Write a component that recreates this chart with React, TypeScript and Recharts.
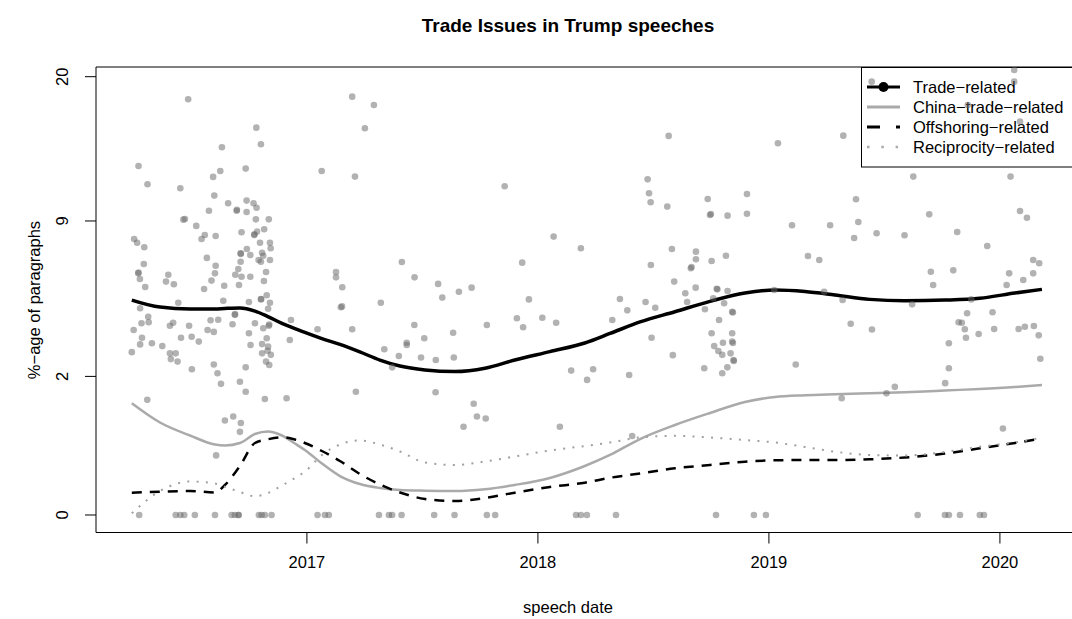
import { ComposedChart, Line, Scatter, XAxis, YAxis, ReferenceLine } from "recharts";

// smoothed curves, % of paragraphs, sampled along speech date (decimal years)
const lineDates = [
  2016.242, 2016.364, 2016.494, 2016.602, 2016.645, 2016.71, 2016.775, 2016.831, 2016.892, 2016.948,
  2016.991, 2017.065, 2017.143, 2017.229, 2017.316, 2017.403, 2017.511, 2017.641, 2017.771, 2017.9,
  2018.052, 2018.203, 2018.312, 2018.442, 2018.593, 2018.745, 2018.896, 2019.026, 2019.156, 2019.286,
  2019.437, 2019.589, 2019.762, 2019.913, 2020.065, 2020.182,
];
const tradeSmooth = [
  4.81, 4.5, 4.42, 4.42, 4.44, 4.46, 4.33, 4.1, 3.82, 3.62, 3.47, 3.24, 3.03, 2.77, 2.5, 2.31, 2.19, 2.14,
  2.24, 2.5, 2.78, 3.08, 3.43, 3.88, 4.3, 4.75, 5.13, 5.27, 5.2, 5.04, 4.84, 4.78, 4.81, 4.89, 5.13, 5.3,
];
const chinaSmooth = [
  1.3, 0.891, 0.658, 0.517, 0.503, 0.54, 0.683, 0.726, 0.658, 0.532, 0.44, 0.276, 0.158, 0.1, 0.076, 0.065,
  0.0615, 0.06, 0.069, 0.094, 0.143, 0.25, 0.375, 0.601, 0.843, 1.083, 1.33, 1.45, 1.492, 1.517, 1.542,
  1.568, 1.614, 1.653, 1.706, 1.76,
];
const offshoringSmooth = [
  0.0518, 0.0565, 0.06, 0.0527, 0.0937, 0.25, 0.54, 0.597, 0.629, 0.5935, 0.54, 0.4265, 0.3036, 0.175,
  0.0969, 0.0527, 0.0267, 0.0204, 0.0301, 0.0518, 0.0816, 0.1086, 0.1441, 0.1793, 0.2271, 0.2603, 0.2958,
  0.3116, 0.315, 0.315, 0.323, 0.3443, 0.3938, 0.4632, 0.54, 0.609,
];
const reciprocitySmooth = [
  0.0003, 0.06, 0.1169, 0.1033, 0.0834, 0.0551, 0.0364, 0.0504, 0.0906, 0.1426, 0.1952, 0.3748, 0.5175,
  0.5779, 0.5175, 0.4199, 0.287, 0.2603, 0.298, 0.3563, 0.4332, 0.4957, 0.5473, 0.6254, 0.6531, 0.6254,
  0.5857, 0.5473, 0.4815, 0.4172, 0.3748, 0.3686, 0.4133, 0.4857, 0.5473, 0.6254,
];

// one point per speech: [date, % of paragraphs trade-related]
const speechPoints: [number, number][] = [
  [2016.486, 17.99], [2016.781, 15.62], [2016.632, 14.08], [2016.271, 12.68], [2016.735, 12.49],
  [2016.625, 12.32], [2016.594, 11.9], [2016.31, 11.39], [2016.452, 11.11], [2016.599, 10.62],
  [2016.659, 10.12], [2016.739, 10.29], [2016.696, 9.64], [2016.697, 9.7], [2016.769, 10.12],
  [2016.782, 9.83], [2016.576, 9.64], [2016.739, 9.56], [2016.472, 9.12], [2016.465, 9.08],
  [2016.521, 8.7], [2016.779, 9.1], [2016.558, 8.16], [2016.544, 7.93], [2016.605, 8.1],
  [2016.717, 8.32], [2016.772, 8.16], [2016.773, 8.2], [2016.784, 8.36], [2016.252, 7.93],
  [2016.265, 7.72], [2016.296, 7.46], [2016.74, 7.37], [2016.713, 7.13], [2016.714, 7.1],
  [2016.755, 7.04], [2016.567, 6.88], [2016.294, 6.56], [2016.605, 6.47], [2016.713, 6.68],
  [2016.27, 6.08], [2016.271, 6.12], [2016.277, 5.8], [2016.4, 6.01], [2016.39, 5.67],
  [2016.424, 5.54], [2016.3, 5.41], [2016.555, 5.32], [2016.587, 5.72], [2016.602, 6.08],
  [2016.642, 5.47], [2016.703, 6.3], [2016.69, 6.01], [2016.717, 5.91], [2016.755, 5.91],
  [2016.706, 5.51], [2016.749, 4.72], [2016.638, 4.78], [2016.443, 4.69], [2016.278, 4.45],
  [2016.313, 4.09], [2016.284, 3.83], [2016.315, 3.87], [2016.25, 3.56], [2016.407, 3.73],
  [2016.421, 3.85], [2016.49, 3.73], [2016.583, 3.95], [2016.616, 3.97], [2016.678, 3.79],
  [2016.688, 4.17], [2016.689, 4.2], [2016.775, 3.83], [2016.286, 3.27], [2016.278, 3.03],
  [2016.329, 3.07], [2016.374, 2.97], [2016.242, 2.76], [2016.455, 3.27], [2016.501, 3.31],
  [2016.532, 3.13], [2016.57, 3.56], [2016.597, 3.49], [2016.749, 3.44], [2016.756, 3.01],
  [2016.407, 2.72], [2016.432, 2.72], [2016.411, 2.53], [2016.44, 2.45], [2016.502, 2.21],
  [2016.597, 2.36], [2016.613, 2.09], [2016.628, 1.79], [2016.71, 1.85], [2016.735, 1.58],
  [2016.735, 2.27], [2016.309, 1.38], [2016.645, 0.93], [2016.681, 1.01], [2016.714, 0.88],
  [2016.71, 0.72], [2016.607, 0.37],
  [2016.801, 14.31], [2017.196, 18.22], [2017.29, 17.5], [2017.251, 15.57], [2017.064, 12.32],
  [2017.208, 11.92], [2016.835, 9.1], [2016.815, 8.5], [2016.797, 7.72], [2016.84, 7.72],
  [2016.843, 7.41], [2016.806, 7.16], [2016.811, 7.0], [2016.84, 6.77], [2016.801, 6.68],
  [2016.791, 6.77], [2016.823, 6.15], [2016.814, 5.7], [2016.801, 4.84], [2016.802, 4.86],
  [2016.826, 5.03], [2016.84, 4.69], [2016.832, 4.43], [2016.835, 3.73], [2016.837, 3.78],
  [2016.931, 3.96], [2016.926, 3.19], [2016.811, 3.63], [2016.806, 3.04], [2016.826, 3.25],
  [2016.832, 2.95], [2016.83, 2.81], [2016.806, 2.72], [2016.844, 2.67], [2016.823, 2.45],
  [2016.837, 2.34], [2016.818, 1.4], [2016.912, 1.42], [2017.046, 3.59], [2017.126, 6.15],
  [2017.126, 5.88], [2017.153, 5.4], [2017.147, 4.49], [2017.152, 4.53], [2017.196, 3.59],
  [2017.212, 1.58], [2017.32, 4.69], [2017.335, 2.86], [2017.369, 2.27], [2017.398, 2.63],
  [2017.432, 3.09], [2017.432, 3.01], [2017.411, 6.66], [2017.466, 5.88], [2017.465, 3.76],
  [2017.494, 2.58], [2017.508, 3.25], [2017.568, 5.56], [2017.586, 4.92], [2017.658, 5.19],
  [2017.713, 5.38], [2017.856, 11.25], [2018.068, 8.07], [2017.932, 6.63], [2017.961, 4.84],
  [2017.909, 4.03], [2017.936, 3.67], [2018.019, 4.05], [2018.079, 3.85], [2017.779, 3.76],
  [2017.633, 3.46], [2017.558, 2.5], [2017.636, 2.58], [2017.557, 1.57], [2017.722, 1.29],
  [2017.736, 1.01], [2017.774, 0.97], [2017.678, 0.81], [2018.095, 0.81], [2018.144, 2.17],
  [2018.566, 14.96], [2018.475, 11.73], [2018.481, 10.78], [2018.488, 10.18], [2018.56, 9.9],
  [2018.735, 10.4], [2018.745, 9.37], [2018.749, 9.43], [2018.821, 9.33], [2018.186, 7.41],
  [2018.489, 6.51], [2018.58, 7.37], [2018.684, 7.22], [2018.684, 6.81], [2018.662, 6.34],
  [2018.665, 6.4], [2018.752, 6.72], [2018.814, 7.0], [2018.59, 5.67], [2018.355, 4.86],
  [2018.387, 4.36], [2018.322, 3.96], [2018.466, 4.72], [2018.508, 4.47], [2018.638, 5.12],
  [2018.646, 4.72], [2018.683, 5.38], [2018.774, 5.33], [2018.777, 5.3], [2018.821, 5.22],
  [2018.723, 4.41], [2018.759, 4.89], [2018.806, 4.67], [2018.841, 4.3], [2018.844, 4.27],
  [2018.784, 3.96], [2018.492, 3.27], [2018.752, 3.44], [2018.841, 3.44], [2018.841, 3.13],
  [2018.844, 3.08], [2018.763, 2.97], [2018.781, 2.8], [2018.801, 3.09], [2018.834, 2.72],
  [2018.847, 2.5], [2018.848, 2.47], [2018.798, 2.67], [2018.82, 2.27], [2018.798, 2.09],
  [2018.72, 2.24], [2018.584, 2.66], [2018.395, 2.04], [2018.239, 2.21], [2018.213, 1.9],
  [2018.408, 0.65],
  [2019.039, 14.39], [2019.322, 14.98], [2019.445, 19.55], [2018.905, 10.73], [2018.905, 9.45],
  [2019.1, 8.74], [2019.265, 8.74], [2019.377, 10.38], [2019.387, 8.94], [2019.369, 7.99],
  [2019.466, 8.26], [2019.169, 6.98], [2019.218, 6.77], [2019.023, 5.27], [2019.239, 5.19],
  [2019.319, 4.81], [2019.354, 3.81], [2019.446, 3.58], [2019.116, 2.36], [2019.315, 1.42],
  [2019.509, 1.54],
  [2019.545, 1.71], [2020.062, 20.62], [2020.062, 19.55], [2020.087, 16.11], [2019.861, 17.5],
  [2019.625, 11.92], [2020.046, 11.92], [2019.694, 9.41], [2020.087, 9.62], [2020.117, 9.2],
  [2019.815, 8.34], [2019.587, 8.15], [2019.945, 7.53], [2020.144, 6.77], [2020.17, 6.6],
  [2019.701, 6.16], [2019.798, 6.23], [2019.711, 5.51], [2020.04, 6.08], [2020.029, 5.51],
  [2020.101, 5.75], [2020.144, 6.08], [2019.62, 4.62], [2019.876, 4.84], [2019.858, 4.24],
  [2019.968, 4.28], [2019.821, 3.87], [2019.835, 3.85], [2019.848, 3.59], [2019.853, 3.27],
  [2019.908, 3.41], [2019.975, 3.6], [2020.081, 3.6], [2020.108, 3.69], [2020.147, 3.72],
  [2020.168, 3.36], [2020.175, 2.54], [2019.779, 3.07], [2019.779, 2.24], [2019.763, 1.81],
  [2020.013, 0.78],
  // speeches with no trade paragraphs
  [2016.274, 0], [2016.432, 0], [2016.452, 0], [2016.469, 0], [2016.515, 0], [2016.602, 0],
  [2016.674, 0], [2016.688, 0], [2016.703, 0], [2016.705, 0], [2016.792, 0], [2016.804, 0],
  [2016.818, 0], [2016.847, 0], [2017.046, 0], [2017.078, 0], [2017.095, 0], [2017.312, 0],
  [2017.355, 0], [2017.369, 0], [2017.41, 0], [2017.551, 0], [2017.639, 0], [2017.779, 0],
  [2017.815, 0], [2018.165, 0], [2018.186, 0], [2018.212, 0], [2018.338, 0], [2018.771, 0],
  [2018.935, 0], [2018.987, 0], [2019.644, 0], [2019.762, 0], [2019.779, 0], [2019.827, 0],
  [2019.913, 0], [2019.931, 0],
];

const xTicks = [2017, 2018, 2019, 2020];
const yTickLabels = [0, 2, 9, 20];
const legendLabels = ["Trade\u2212related", "China\u2212trade\u2212related", "Offshoring\u2212related", "Reciprocity\u2212related"];

// y is drawn on a square-root scale
const X_DOMAIN: [number, number] = [2016.087, 2020.338];
const Y_DOMAIN: [number, number] = [-0.1786, 4.571];

const font = '"Liberation Sans", Arial, Helvetica, sans-serif';

const lineData = lineDates.map((t, i) => ({
  t,
  trade: Math.sqrt(tradeSmooth[i]),
  china: Math.sqrt(chinaSmooth[i]),
  offshoring: Math.sqrt(offshoringSmooth[i]),
  reciprocity: Math.sqrt(reciprocitySmooth[i]),
}));
const pointData = speechPoints.map(([t, pct]) => ({ t, s: Math.sqrt(pct) }));

function XTick(props: any) {
  return (
    <text x={props.x} y={568} textAnchor="middle" fontSize={16.5} fontFamily={font} fill="#000">
      {props.payload.value}
    </text>
  );
}

function YTick(props: any) {
  const y = props.y;
  return (
    <text x={68} y={y} transform={`rotate(-90, 68, ${y})`} textAnchor="middle" fontSize={16.5} fontFamily={font} fill="#000">
      {Math.round(props.payload.value * props.payload.value)}
    </text>
  );
}

const Dot = (p: any) => <circle cx={p.cx} cy={p.cy} r={3.3} fill="#666" fillOpacity={0.5} />;

function LegendBox() {
  const rows = [87, 107, 127, 147];
  return (
    <g>
      <rect x={861.5} y={67.5} width={260} height={99.5} fill="#fff" stroke="#000" />
      <line x1={867} x2={900} y1={rows[0]} y2={rows[0]} stroke="#000" strokeWidth={3} />
      <circle cx={883.5} cy={rows[0]} r={5} fill="#000" />
      <line x1={867} x2={900} y1={rows[1]} y2={rows[1]} stroke="#aaaaaa" strokeWidth={3} />
      <line x1={867} x2={900} y1={rows[2]} y2={rows[2]} stroke="#000" strokeWidth={3} strokeDasharray="13 16" />
      <line x1={867} x2={900} y1={rows[3]} y2={rows[3]} stroke="#aaaaaa" strokeWidth={2.5} strokeDasharray="2.5 11.8" />
      {legendLabels.map((l, i) => (
        <text key={l} x={913} y={rows[i] + 6} fontSize={16.5} fontFamily={font} fill="#000">
          {l}
        </text>
      ))}
    </g>
  );
}

export default function App() {
  return (
    <div style={{ position: "fixed", left: 0, top: 0, width: 1072, height: 619, overflow: "hidden", background: "#fff" }}>
      <svg width={1072} height={619} style={{ position: "absolute", left: 0, top: 0 }}>
        <LegendBox />
        <text x={568} y={32} textAnchor="middle" fontSize={19} fontWeight="bold" fontFamily={font} fill="#000">
          Trade Issues in Trump speeches
        </text>
        <text x={568} y={613} textAnchor="middle" fontSize={16.5} fontFamily={font} fill="#000">
          speech date
        </text>
        <text x={40} y={300} transform="rotate(-90, 40, 300)" textAnchor="middle" fontSize={16.5} fontFamily={font} fill="#000">
          %{"\u2212"}age of paragraphs
        </text>
      </svg>
      <div style={{ position: "absolute", left: 0, top: 0 }}>
        <ComposedChart width={1090} height={619} data={lineData} margin={{ top: 67, right: 12, bottom: 0, left: 0 }}>
          <XAxis
            dataKey="t"
            type="number"
            domain={X_DOMAIN}
            allowDataOverflow
            ticks={xTicks}
            interval={0}
            tick={(p: any) => <XTick {...p} />}
            tickSize={11}
            height={86.5}
            axisLine={{ stroke: "#000" }}
            tickLine={{ stroke: "#000" }}
          />
          <YAxis
            type="number"
            domain={Y_DOMAIN}
            allowDataOverflow
            ticks={yTickLabels.map((v) => Math.sqrt(v))}
            interval={0}
            tick={(p: any) => <YTick {...p} />}
            tickSize={11}
            width={96}
            axisLine={{ stroke: "#000" }}
            tickLine={{ stroke: "#000" }}
          />
          <ReferenceLine y={Y_DOMAIN[1]} stroke="#000" />
          <Scatter data={pointData} dataKey="s" shape={Dot} isAnimationActive={false} />
          <Line type="monotone" dataKey="trade" stroke="#000" strokeWidth={3.5} dot={false} isAnimationActive={false} />
          <Line type="monotone" dataKey="china" stroke="#aaaaaa" strokeWidth={2.5} dot={false} isAnimationActive={false} />
          <Line
            type="monotone"
            dataKey="offshoring"
            stroke="#000"
            strokeWidth={2.5}
            strokeDasharray="10 8"
            dot={false}
            isAnimationActive={false}
          />
          <Line
            type="monotone"
            dataKey="reciprocity"
            stroke="#a0a0a0"
            strokeWidth={2}
            strokeDasharray="2 7.3"
            dot={false}
            isAnimationActive={false}
          />
        </ComposedChart>
      </div>
    </div>
  );
}
